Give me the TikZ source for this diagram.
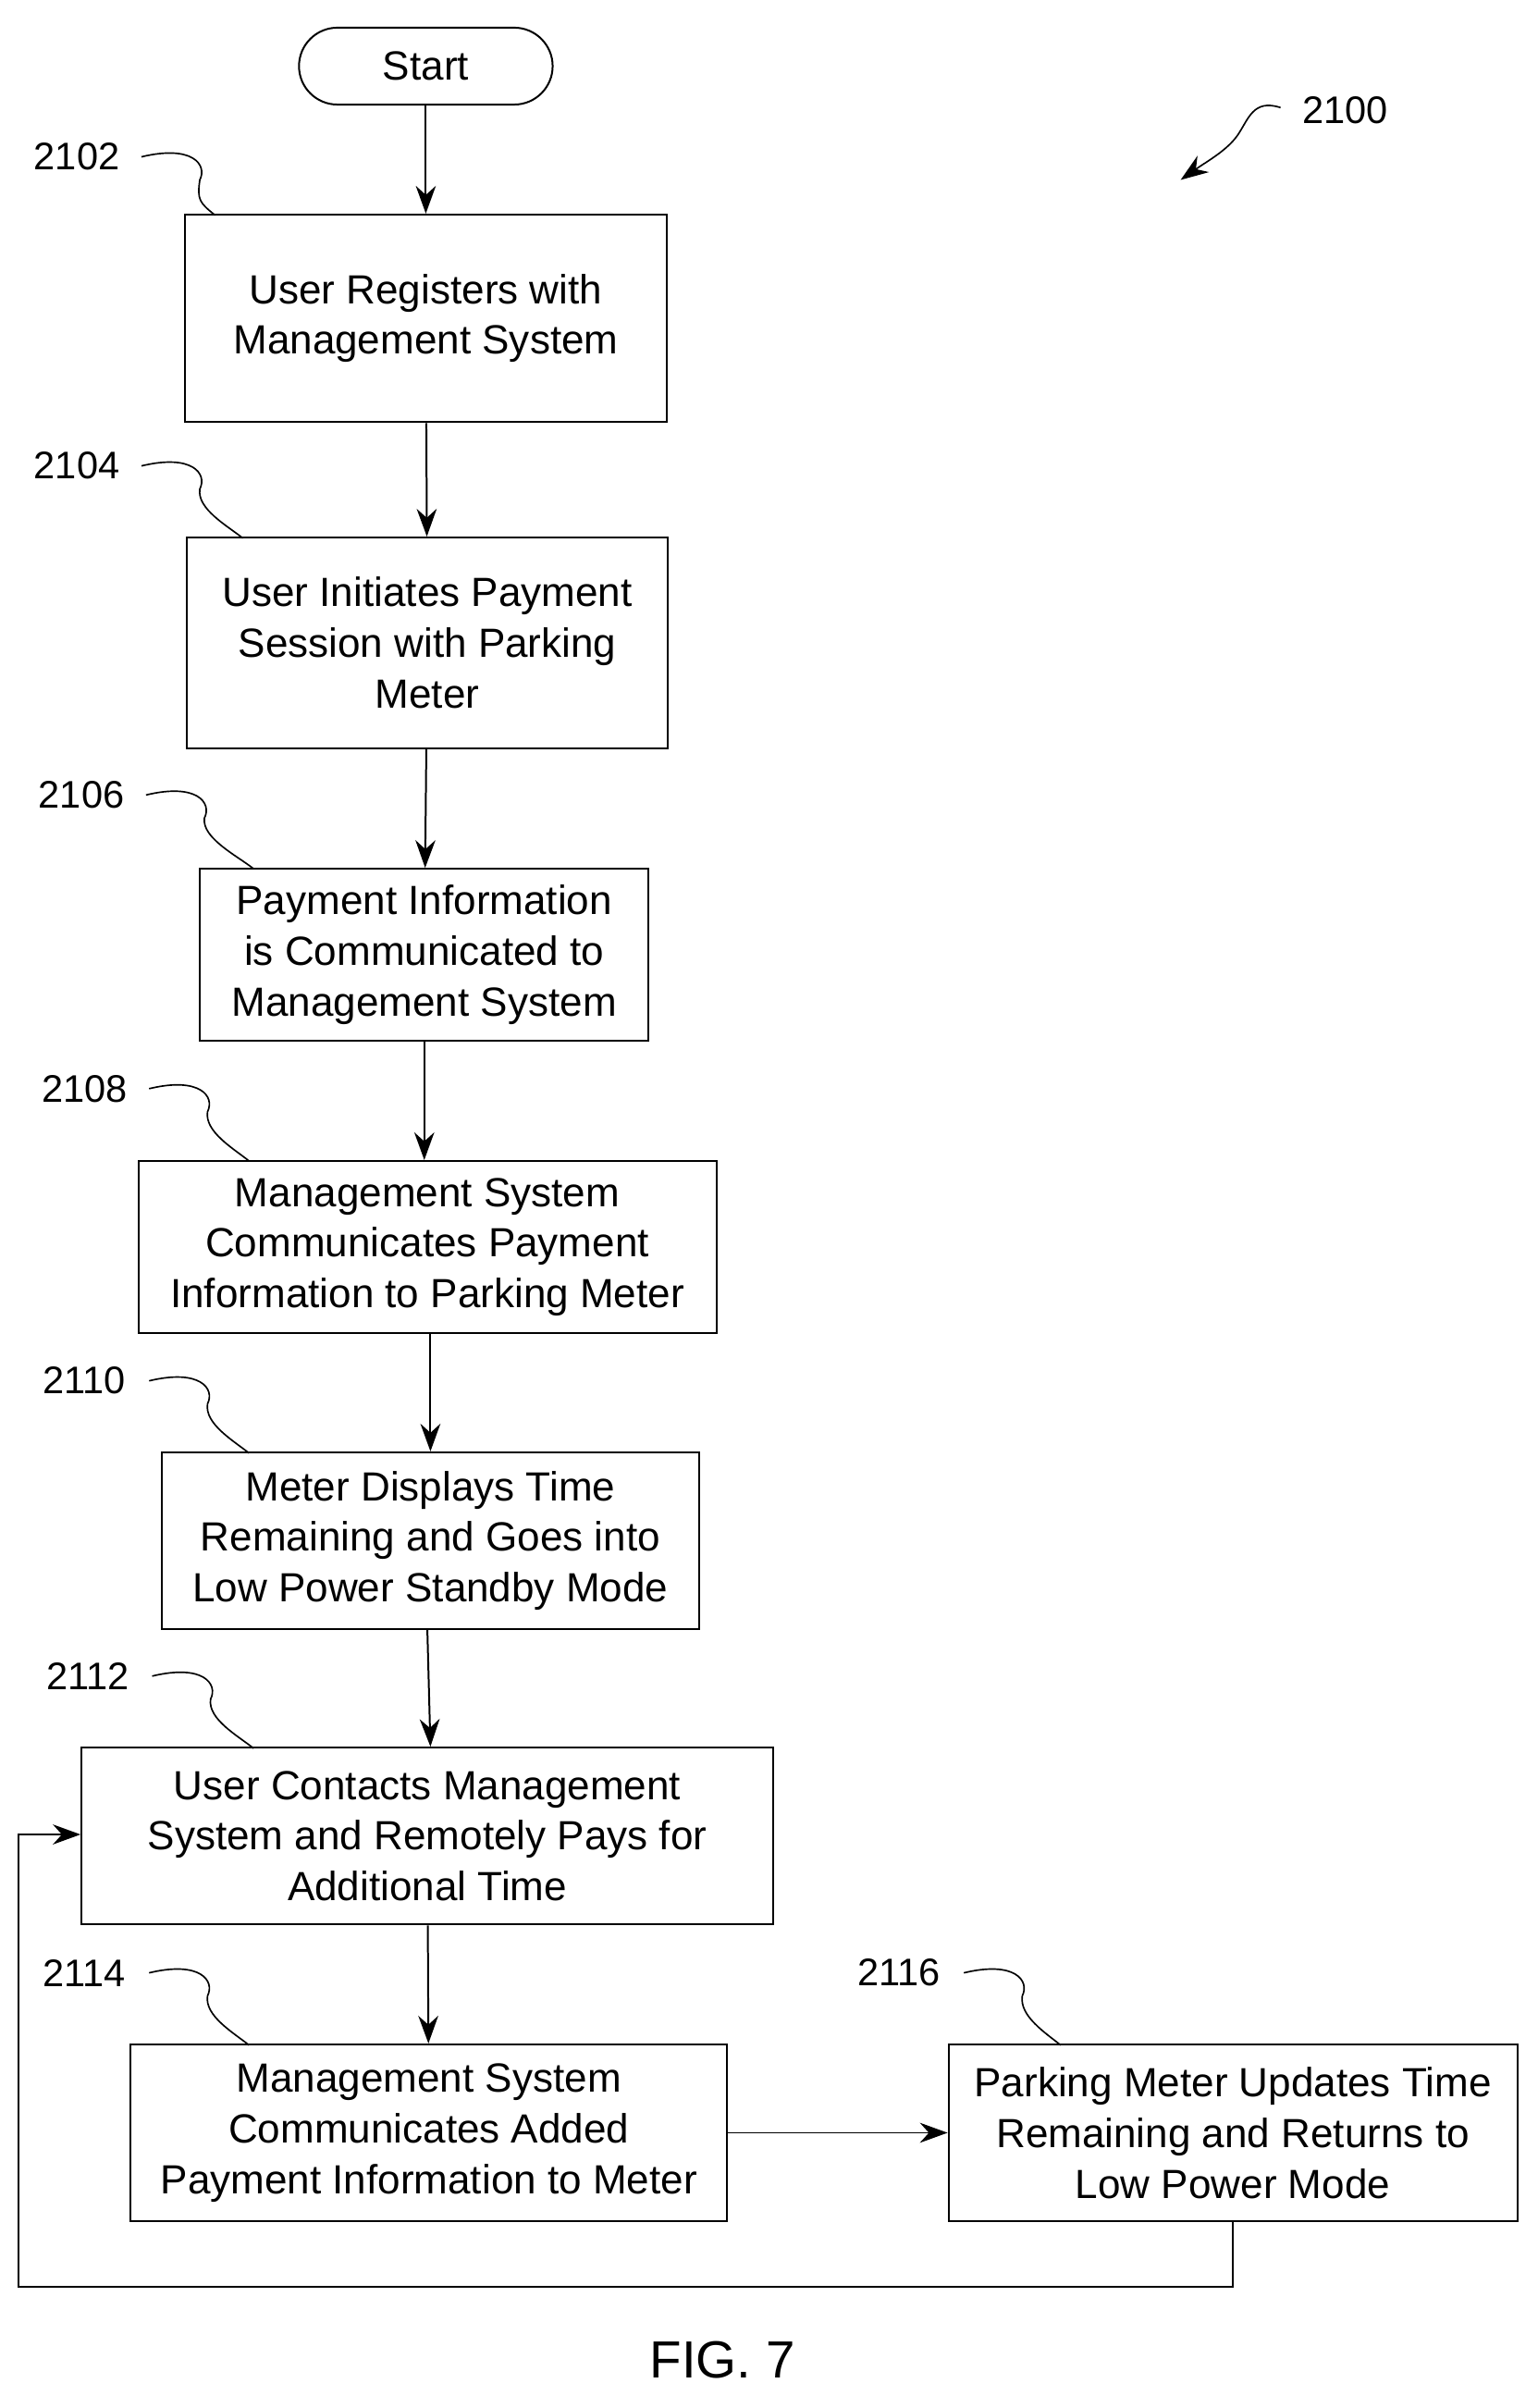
\documentclass[tikz,border=0pt]{standalone}
\usepackage{fontspec}
\setmainfont{Liberation Sans}
\usetikzlibrary{arrows.meta}
\begin{document}
\begin{tikzpicture}[x=1pt,y=-1pt,
  box/.style={draw,line width=1.2pt,align=center,inner sep=0pt,font=\fontsize{26.5}{33}\selectfont},
  arr/.style={line width=1.2pt,-{Stealth[length=18pt,width=13pt]}},
  lbl/.style={font=\fontsize{25}{28}\selectfont},
  lead/.style={line width=1pt}]
\useasboundingbox (0,0) rectangle (1000,1566);
\node[box,rounded corners=25pt,minimum width=165pt,minimum height=50pt] (s) at (277,43) {Start};
\node[box,minimum width=313pt,minimum height=135pt] (b2) at (277,207) {User Registers with\\Management System};
\node[box,minimum width=313pt,minimum height=137pt] (b4) at (278,418) {User Initiates Payment\\Session with Parking\\Meter};
\node[box,minimum width=292pt,minimum height=112pt] (b6) at (276,621) {Payment Information\\is Communicated to\\Management System};
\node[box,minimum width=376pt,minimum height=112pt] (b8) at (278,811) {Management System\\Communicates Payment\\Information to Parking Meter};
\node[box,minimum width=350pt,minimum height=115pt] (b10) at (280,1002) {Meter Displays Time\\Remaining and Goes into\\Low Power Standby Mode};
\node[box,minimum width=450pt,minimum height=115pt] (b12) at (278,1194) {User Contacts Management\\System and Remotely Pays for\\Additional Time};
\node[box,minimum width=388pt,minimum height=115pt] (b14) at (279,1387) {Management System\\Communicates Added\\Payment Information to Meter};
\node[box,minimum width=370pt,minimum height=115pt] (b16) at (802,1387) {Parking Meter Updates Time\\Remaining and Returns to\\Low Power Mode};
\draw[arr] (s) -- (b2);
\draw[arr] (b2) -- (b4);
\draw[arr] (b4) -- (b6);
\draw[arr] (b6.south) -- (b8.north -| b6.south);
\draw[arr] (b8.south -| b10.north) -- (b10);
\draw[arr] (b10.south -| b12.north) -- (b12.north -| b10.south);
\draw[arr] (b12) -- (b14);
\draw[arr] (b14) -- (b16);
\coordinate (c1) at (802,1487);
\coordinate (c2) at (12,1487);
\coordinate (c3) at (12,1193);
\draw[arr] (b16.south -| c1) -- (c1) -- (c2) -- (c3) -- (b12.west |- c3);
\foreach \n/\t/\x/\y/\bx/\by in {2/2102/50/102/140/140,4/2104/50/303/158/350,6/2106/53/517/165/565,8/2108/55/708/162/755,10/2110/55/898/162/945,12/2112/57/1090/165/1137,14/2114/55/1283/162/1330,16/2116/585/1283/690/1330}{
  \node[lbl] (l\n) at (\x,\y) {\t};
  \draw[lead] (\x+42,\y) .. controls (\x+75,\y-8) and (\x+85,\y+5) .. (\x+80,\y+15) .. controls (\x+78,\y+28) and (\bx-10,\by-8) .. (\bx,\by);
}
\node[lbl] (l0) at (875,72) {2100};
\coordinate (a0) at (768,117);
\draw[lead,-{Stealth[length=18pt,width=13pt]}] (833,70) .. controls (815,64) and (812,78) .. (805,88) .. controls (798,98) and (785,105) .. (a0);
\node[font=\fontsize{34}{40}\selectfont] (fig) at (470,1535) {FIG. 7};
\end{tikzpicture}
\end{document}
